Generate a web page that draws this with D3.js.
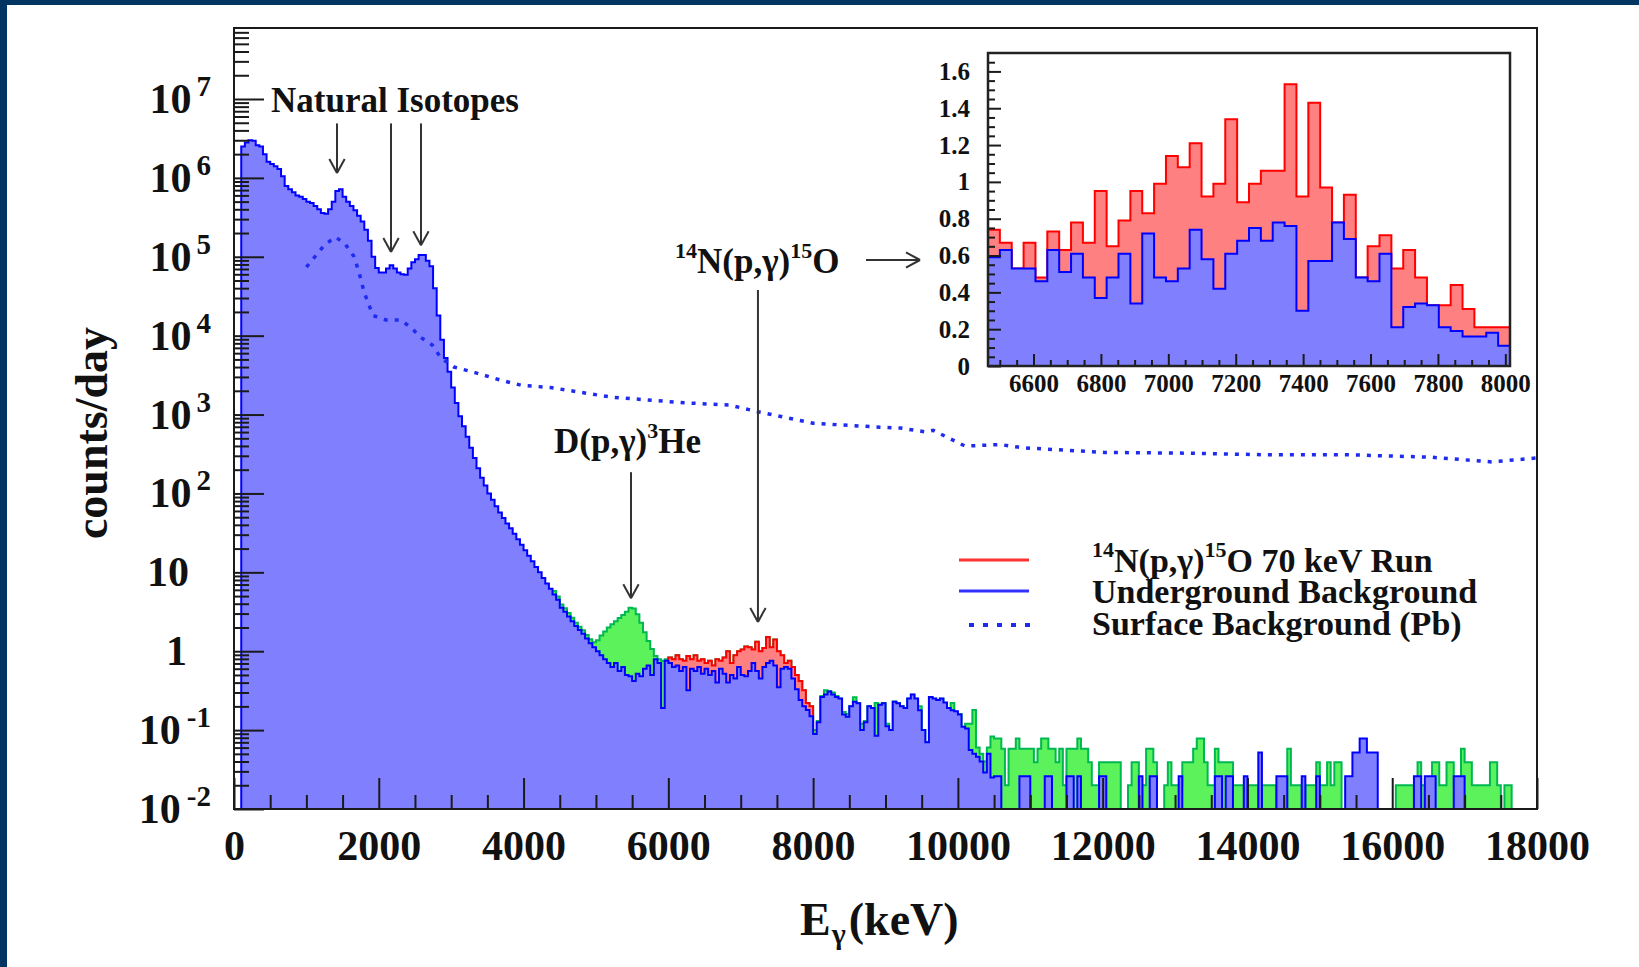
<!DOCTYPE html>
<html>
<head>
<meta charset="utf-8">
<title>Gamma spectrum</title>
<script src="https://cdnjs.cloudflare.com/ajax/libs/d3/7.8.5/d3.min.js"></script>
<style>
  html, body { margin: 0; padding: 0; background: #fff; }
  svg { display: block; }
  text { font-family: "Liberation Serif", "Times New Roman", serif; font-weight: bold; fill: #111; }
</style>
</head>
<body>
<script>
"use strict";

// main spectrum, 50 keV bins (counts/day)
const binWidth = 50;
const blueStart = 100;
const blueLow = [
	2.5e6, 2.8e6, 3.0e6, 2.95e6, 2.6e6, 2.5e6, 2.0e6, 1.6e6, 1.5e6, 1.4e6,
	1.3e6, 1.05e6, 7.9e5, 7.2e5, 6.6e5, 6.0e5, 5.75e5, 5.4e5, 5.0e5, 4.8e5,
	4.4e5, 4.0e5, 3.6e5, 3.5e5, 4.0e5, 5.0e5, 6.8e5, 7.2e5, 5.75e5, 5.0e5,
	4.4e5, 3.9e5, 3.3e5, 2.8e5, 2.2e5, 1.6e5, 1.0e5, 7.2e4, 6.3e4, 6.3e4,
	7.1e4, 7.8e4, 7.1e4, 6.3e4, 6.0e4, 5.9e4, 7.1e4, 8.5e4, 9.3e4, 1.05e5,
	1.05e5, 8.9e4, 7.6e4, 4.0e4, 1.8e4, 8.9e3, 5.2e3, 3.5e3, 2.2e3, 1.4e3,
	955, 710, 525, 380, 282, 209, 158, 126, 100, 83,
	69, 57.5, 49, 41.7, 36.3, 30.9, 26.3, 22.4, 19.1, 16.2,
	13.8, 11.7, 10, 8.5, 7.2, 6.2, 5.25, 4.5
];
const blueMid = [
	3.55, 3.16, 2.75, 2.4, 2.09, 1.86, 1.66, 1.45, 1.26, 1.12,
	1.0, 0.89, 0.79, 0.71, 0.63, 0.71, 0.56, 0.63, 0.50, 0.48,
	0.42, 0.52, 0.48, 0.60, 0.66, 0.50, 0.79, 0.71, 0.19, 0.76,
	0.71, 0.63, 0.66, 0.56, 0.63, 0.32, 0.60, 0.56, 0.63, 0.52,
	0.60, 0.50, 0.56, 0.40, 0.60, 0.52, 0.40, 0.50, 0.45, 0.63,
	0.50, 0.48, 0.56, 0.71, 0.56, 0.45, 0.63, 0.71, 0.76, 0.66,
	0.35, 0.60, 0.63, 0.60, 0.45, 0.33, 0.24, 0.20, 0.18, 0.15,
	0.089, 0.126, 0.263, 0.282, 0.309, 0.282, 0.263, 0.251, 0.158, 0.148,
	0.200, 0.229, 0.219, 0.100, 0.126, 0.200, 0.191, 0.085, 0.209, 0.219,
	0.112, 0.100, 0.229, 0.219, 0.200, 0.191, 0.251, 0.282, 0.251, 0.178,
	0.100, 0.070, 0.263, 0.251, 0.240, 0.251, 0.224, 0.191, 0.178, 0.174,
	0.158, 0.110, 0.105, 0.056, 0.050, 0.046, 0.040, 0.029, 0.050, 0.025
];
const blueHigh = [
	0.026, 0.026, 0, 0, 0, 0, 0, 0.026, 0.026, 0.026,
	0, 0, 0, 0, 0.026, 0.026, 0, 0, 0, 0,
	0.026, 0.026, 0, 0.026, 0, 0, 0, 0, 0, 0.026,
	0.026, 0, 0, 0, 0, 0, 0, 0, 0, 0,
	0.026, 0, 0, 0.026, 0.026, 0, 0, 0, 0, 0,
	0, 0.026, 0, 0, 0, 0, 0, 0, 0, 0,
	0, 0.026, 0.026, 0, 0.026, 0.026, 0, 0, 0, 0.026,
	0, 0, 0, 0.052, 0, 0, 0, 0, 0.026, 0.026,
	0.026, 0, 0, 0, 0, 0.026, 0, 0, 0, 0.026,
	0, 0, 0, 0, 0, 0, 0, 0.026, 0.026, 0.052,
	0.052, 0.078, 0.078, 0.052, 0.052, 0.052, 0, 0, 0, 0,
	0, 0, 0, 0, 0, 0, 0.026, 0.026, 0, 0.026,
	0.026, 0.026, 0, 0, 0, 0, 0, 0.026, 0.026, 0.026,
	0, 0, 0, 0, 0, 0, 0, 0, 0, 0,
	0, 0, 0, 0
];

// 70 keV run, same binning
const runStart = 4400;
const runLow = [
	5.8, 4.95, 3.9, 3.5, 3.05, 2.65, 2.3, 2.05, 1.85, 1.6,
	1.42, 1.3, 1.38, 1.58, 1.78, 2.0, 2.19, 2.4, 2.63, 2.88,
	3.16, 3.55, 3.47, 2.95, 2.29, 1.74, 1.35, 1.07, 0.87, 0.79,
	0.76, 0.79
];
const redStart = 6000;
const runRed = [
	0.83, 0.79, 0.89, 0.79, 0.76, 0.87, 0.79, 0.89, 0.76, 0.79,
	0.71, 0.76, 0.66, 0.79, 0.76, 0.83, 1.0, 0.71, 0.89, 1.0,
	1.05, 1.15, 1.12, 1.05, 1.32, 1.0, 1.10, 1.51, 1.12, 1.41,
	1.0, 0.89, 0.71, 0.76, 0.63, 0.50, 0.42, 0.32, 0.22, 0.20
];
const runMid = [
	0.10, 0.13, 0.27, 0.32, 0.31, 0.30, 0.27, 0.25, 0.17, 0.16,
	0.20, 0.26, 0.22, 0.12, 0.13, 0.20, 0.19, 0.22, 0.21, 0.22,
	0.12, 0.10, 0.23, 0.22, 0.20, 0.19, 0.25, 0.28, 0.25, 0.20,
	0.10, 0.07, 0.26, 0.25, 0.24, 0.25, 0.22, 0.19, 0.22, 0.17,
	0.16, 0.11, 0.12, 0.12, 0.18, 0.06, 0.05, 0.04, 0.06, 0.083
];
const runHigh = [
	0.078, 0.078, 0.058, 0.02, 0.058, 0.058, 0.078, 0.058, 0.058, 0.058,
	0.058, 0.039, 0.058, 0.078, 0.078, 0.058, 0.058, 0.039, 0.058, 0.02,
	0.058, 0.058, 0.058, 0.078, 0.058, 0.058, 0.039, 0.02, 0.02, 0.039,
	0.039, 0.039, 0.039, 0.039, 0.039, 0, 0, 0.02, 0.039, 0.039,
	0.02, 0.02, 0.058, 0.058, 0.039, 0, 0, 0.02, 0.039, 0.02,
	0.02, 0.02, 0.039, 0.039, 0.039, 0.058, 0.078, 0.078, 0.039, 0.02,
	0.02, 0.058, 0.039, 0.039, 0.039, 0.039, 0.02, 0.02, 0.02, 0,
	0.02, 0.02, 0.02, 0, 0.02, 0.02, 0.02, 0.02, 0, 0,
	0, 0.058, 0.02, 0.02, 0.02, 0, 0.02, 0.02, 0.02, 0.039,
	0.02, 0.02, 0.039, 0.02, 0.039, 0.039, 0, 0, 0, 0,
	0, 0, 0, 0, 0, 0, 0, 0, 0, 0,
	0, 0.02, 0.02, 0.02, 0.02, 0.02, 0, 0.039, 0.02, 0,
	0, 0.039, 0.039, 0.02, 0.02, 0.039, 0.039, 0.02, 0.02, 0.058,
	0.039, 0.039, 0.02, 0.02, 0.02, 0.02, 0.02, 0.039, 0.039, 0.02,
	0, 0.02, 0.02, 0
];

// surface background (Pb), dotted
const surfaceE = [1000, 1250, 1400, 1530, 1660, 1730, 1800, 1920, 2100, 2300,
	2450, 2580, 2740, 2860, 3040, 3330, 3670, 3970, 4370, 5220,
	6220, 6840, 7270, 8000, 8920, 9200, 9550, 9660, 10100, 10580,
	10890, 12020, 13150, 14270, 15400, 16540, 17380, 18000];
const surfaceV = [7.4e4, 1.41e5, 1.78e5, 1.48e5, 1.0e5, 6.2e4, 3.5e4, 1.8e4, 1.58e4, 1.58e4,
	1.26e4, 9.5e3, 7.6e3, 5.2e3, 4.0e3, 3.4e3, 2.75e3, 2.35e3, 2.2e3, 1.66e3,
	1.41e3, 1.32e3, 1.07e3, 776, 692, 676, 603, 631, 398, 417,
	380, 331, 324, 309, 309, 288, 251, 282];

// inset, linear scale
const insetStart = 6465;
const insetBinWidth = 35.2;
const insetRun = [
	0.74, 0.67, 0.53, 0.67, 0.48, 0.73, 0.63, 0.78, 0.67, 0.95,
	0.65, 0.79, 0.95, 0.83, 0.99, 1.14, 1.08, 1.21, 0.92, 0.99,
	1.34, 0.89, 0.99, 1.06, 1.06, 1.53, 0.92, 1.43, 0.97, 0.78,
	0.93, 0.48, 0.65, 0.71, 0.53, 0.63, 0.48, 0.33, 0.33, 0.44,
	0.31, 0.21, 0.21, 0.21
];
const insetBlue = [
	0.59, 0.63, 0.53, 0.53, 0.46, 0.63, 0.51, 0.61, 0.48, 0.37,
	0.48, 0.61, 0.34, 0.72, 0.48, 0.46, 0.53, 0.74, 0.58, 0.42,
	0.61, 0.68, 0.75, 0.68, 0.78, 0.76, 0.30, 0.57, 0.57, 0.78,
	0.69, 0.48, 0.46, 0.61, 0.21, 0.32, 0.34, 0.33, 0.21, 0.19,
	0.16, 0.16, 0.18, 0.11
];

const xTickValues = [0, 2000, 4000, 6000, 8000, 10000, 12000, 14000, 16000, 18000];
const yDecades = [-2, -1, 0, 1, 2, 3, 4, 5, 6, 7];
const insetXTicks = [6600, 6800, 7000, 7200, 7400, 7600, 7800, 8000];
const insetYTicks = [0, 0.2, 0.4, 0.6, 0.8, 1, 1.2, 1.4, 1.6];

const isotopeArrows = [
	{e: 1423, top: 4.9e6, tip: 1.15e6},
	{e: 2169, top: 4.9e6, tip: 1.15e5},
	{e: 2583, top: 4.9e6, tip: 1.4e5}
];
const peakArrows = [
	{e: 5484, top: 186, tip: 4.7},
	{e: 7238, top: 3.8e4, tip: 2.35}
];

const W = 1639, H = 967;
const plot = {left: 234, right: 1537, top: 28, bottom: 809};
const box = {left: 988, right: 1510, top: 53, bottom: 366};
const serif = '"Liberation Serif", "Times New Roman", serif';

const colors = {
	blueLine: "#0000ff", blueFill: "#8080ff",
	greenLine: "#00b850", greenFill: "#5cf25c",
	redLine: "#ff0000", redFill: "#ff8080",
	axis: "#1a1a1a", navy: "#033563"
};

const svg = d3.select("body").append("svg").attr("width", W).attr("height", H);
svg.append("rect").attr("width", W).attr("height", H).attr("fill", "#fff");

const x = d3.scaleLinear().domain([0, 18000]).range([plot.left, plot.right]);
const y = d3.scaleLog().domain([0.01, Math.pow(10, 7.9)]).range([plot.bottom, plot.top]);

function stepPoints(start, width, values) {
	const pts = [[start, 0]];
	values.forEach((v, i) => pts.push([start + i * width, v]));
	const end = start + values.length * width;
	pts.push([end, values[values.length - 1]]);
	pts.push([end, 0]);
	return pts;
}

function drawHist(g, pts, xs, ys, floor, fill, stroke) {
	const yy = v => v > 0 ? Math.min(ys(v), floor) : floor;
	g.append("path").datum(pts)
		.attr("d", d3.area().curve(d3.curveStepAfter).x(d => xs(d[0])).y0(floor).y1(d => yy(d[1])))
		.attr("fill", fill);
	g.append("path").datum(pts)
		.attr("d", d3.line().curve(d3.curveStepAfter).x(d => xs(d[0])).y(d => yy(d[1])))
		.attr("fill", "none").attr("stroke", stroke).attr("stroke-width", 2)
		.attr("stroke-linejoin", "miter");
}

function styleAxis(g, fontSize) {
	g.attr("font-family", serif).attr("font-size", fontSize);
	g.select(".domain").remove();
	g.selectAll(".tick line").attr("stroke", colors.axis).attr("stroke-width", 2);
	g.selectAll(".tick text").attr("fill", "#111").attr("font-weight", "bold");
}

function arrow(g, x1, y1, x2, y2) {
	const ang = Math.atan2(y2 - y1, x2 - x1);
	const len = 16, spread = 0.5;
	g.append("line").attr("x1", x1).attr("y1", y1).attr("x2", x2).attr("y2", y2);
	[-spread, spread].forEach(s => {
		g.append("line").attr("x1", x2).attr("y1", y2)
			.attr("x2", x2 - len * Math.cos(ang + s))
			.attr("y2", y2 - len * Math.sin(ang + s));
	});
}

// main plot
svg.append("clipPath").attr("id", "mainClip").append("rect")
	.attr("x", plot.left).attr("y", plot.top)
	.attr("width", plot.right - plot.left).attr("height", plot.bottom - plot.top);
const main = svg.append("g").attr("clip-path", "url(#mainClip)");

const runAll = runLow.concat(runRed, runMid, runHigh);
const blueAll = blueLow.concat(blueMid, blueHigh);

drawHist(main, stepPoints(runStart, binWidth, runAll), x, y, plot.bottom, colors.greenFill, colors.greenLine);
drawHist(main, stepPoints(redStart, binWidth, runRed), x, y, plot.bottom, colors.redFill, colors.redLine);
drawHist(main, stepPoints(blueStart, binWidth, blueAll), x, y, plot.bottom, colors.blueFill, colors.blueLine);

main.append("path")
	.datum(surfaceE.map((e, i) => [e, surfaceV[i]]))
	.attr("d", d3.line().x(d => x(d[0])).y(d => y(d[1])))
	.attr("fill", "none").attr("stroke", "#1f2cf0").attr("stroke-width", 3.5)
	.attr("stroke-dasharray", "4 7");

// axes
const minorX = d3.range(0, 18001, 500).filter(v => v % 2000 !== 0);
svg.append("g").attr("transform", `translate(0,${plot.bottom})`)
	.call(d3.axisBottom(x).tickValues(minorX).tickSize(-14).tickFormat(""))
	.call(g => styleAxis(g, 42));
svg.append("g").attr("transform", `translate(0,${plot.bottom})`)
	.call(d3.axisBottom(x).tickValues(xTickValues).tickSize(-31).tickPadding(21).tickFormat(d3.format("d")))
	.call(g => styleAxis(g, 42));

const yMax = Math.pow(10, 7.9);
const minorY = [];
yDecades.forEach(k => {
	for (let m = 2; m <= 9; m++) {
		const v = m * Math.pow(10, k);
		if (v < yMax) minorY.push(v);
	}
});
svg.append("g").attr("transform", `translate(${plot.left},0)`)
	.call(d3.axisLeft(y).tickValues(minorY).tickSize(-15).tickFormat(""))
	.call(g => styleAxis(g, 42));
svg.append("g").attr("transform", `translate(${plot.left},0)`)
	.call(d3.axisLeft(y).tickValues(yDecades.map(k => Math.pow(10, k))).tickSize(-30).tickFormat(""))
	.call(g => styleAxis(g, 42));

yDecades.forEach(k => {
	const yy = y(Math.pow(10, k));
	if (k === 0 || k === 1) {
		svg.append("text").attr("x", k === 0 ? 187 : 189).attr("y", yy + 14)
			.attr("text-anchor", "end").attr("font-size", 42).text(k === 0 ? "1" : "10");
	} else {
		const t = svg.append("text").attr("x", 211).attr("y", yy + 14)
			.attr("text-anchor", "end").attr("font-size", 42);
		t.append("tspan").text("10");
		t.append("tspan").attr("font-size", 29).attr("dx", k < 0 ? 6 : 5).attr("dy", -17)
			.text(k < 0 ? "-" + (-k) : String(k));
	}
});

svg.append("rect")
	.attr("x", plot.left).attr("y", plot.top)
	.attr("width", plot.right - plot.left).attr("height", plot.bottom - plot.top)
	.attr("fill", "none").attr("stroke", colors.axis).attr("stroke-width", 2);

// titles
const xt = svg.append("text").attr("x", 800).attr("y", 935).attr("font-size", 46);
xt.append("tspan").text("E");
xt.append("tspan").attr("font-size", 30).attr("dx", 1).attr("dy", 9).text("\u03b3");
xt.append("tspan").attr("dx", 3).attr("dy", -9).text("(keV)");

svg.append("text").attr("transform", "translate(107,433) rotate(-90)")
	.attr("text-anchor", "middle").attr("font-size", 46).text("counts/day");

// annotations
const ann = svg.append("g").attr("stroke", "#333").attr("stroke-width", 2).attr("fill", "none");
isotopeArrows.concat(peakArrows).forEach(a => arrow(ann, x(a.e), y(a.top), x(a.e), y(a.tip)));
arrow(ann, 866, 260, 920, 260);

svg.append("text").attr("x", 271).attr("y", 112).attr("font-size", 35).text("Natural Isotopes");

const dl = svg.append("text").attr("x", 554).attr("y", 453).attr("font-size", 35);
dl.append("tspan").text("D(p,\u03b3)");
dl.append("tspan").attr("font-size", 22).attr("dy", -15).text("3");
dl.append("tspan").attr("dy", 15).text("He");

function nLabel(t, tail) {
	t.append("tspan").attr("font-size", 22).attr("dy", -15).text("14");
	t.append("tspan").attr("dy", 15).text("N(p,\u03b3)");
	t.append("tspan").attr("font-size", 22).attr("dy", -15).text("15");
	t.append("tspan").attr("dy", 15).text("O" + tail);
}
nLabel(svg.append("text").attr("x", 675).attr("y", 273).attr("font-size", 35), "");

// legend, rows packed as tightly as in the original
const lg = svg.append("g");
lg.append("line").attr("x1", 959).attr("x2", 1029).attr("y1", 560).attr("y2", 560)
	.attr("stroke", colors.redLine).attr("stroke-width", 3).attr("opacity", 0.8);
lg.append("line").attr("x1", 959).attr("x2", 1029).attr("y1", 591).attr("y2", 591)
	.attr("stroke", colors.blueLine).attr("stroke-width", 3).attr("opacity", 0.8);
lg.append("line").attr("x1", 969).attr("x2", 1030).attr("y1", 625).attr("y2", 625)
	.attr("stroke", "#1f2cf0").attr("stroke-width", 4).attr("stroke-dasharray", "5 9");
nLabel(lg.append("text").attr("x", 1092).attr("y", 572).attr("font-size", 34), " 70 keV Run");
lg.append("text").attr("x", 1092).attr("y", 603).attr("font-size", 34).text("Underground Background");
lg.append("text").attr("x", 1092).attr("y", 635).attr("font-size", 34).text("Surface Background (Pb)");

// inset
const ix = d3.scaleLinear().domain([insetStart, insetStart + insetRun.length * insetBinWidth]).range([box.left, box.right]);
const iy = d3.scaleLinear().domain([0, 1.7]).range([box.bottom, box.top]);
svg.append("rect").attr("x", box.left).attr("y", box.top)
	.attr("width", box.right - box.left).attr("height", box.bottom - box.top).attr("fill", "#fff");
svg.append("clipPath").attr("id", "insetClip").append("rect")
	.attr("x", box.left).attr("y", box.top)
	.attr("width", box.right - box.left).attr("height", box.bottom - box.top);
const inset = svg.append("g").attr("clip-path", "url(#insetClip)");
drawHist(inset, stepPoints(insetStart, insetBinWidth, insetRun), ix, iy, box.bottom, colors.redFill, colors.redLine);
drawHist(inset, stepPoints(insetStart, insetBinWidth, insetBlue), ix, iy, box.bottom, colors.blueFill, colors.blueLine);

const insetMinorX = d3.range(6500, 8001, 50).filter(v => v % 200 !== 0);
svg.append("g").attr("transform", `translate(0,${box.bottom})`)
	.call(d3.axisBottom(ix).tickValues(insetMinorX).tickSize(-6).tickFormat(""))
	.call(g => styleAxis(g, 25));
svg.append("g").attr("transform", `translate(0,${box.bottom})`)
	.call(d3.axisBottom(ix).tickValues(insetXTicks).tickSize(-12).tickPadding(8).tickFormat(d3.format("d")))
	.call(g => styleAxis(g, 25));
const insetMinorY = d3.range(0, 35).map(i => i * 0.05).filter(v => v <= 1.7 && Math.abs(v * 5 - Math.round(v * 5)) > 0.01);
svg.append("g").attr("transform", `translate(${box.left},0)`)
	.call(d3.axisLeft(iy).tickValues(insetMinorY).tickSize(-7).tickFormat(""))
	.call(g => styleAxis(g, 25));
svg.append("g").attr("transform", `translate(${box.left},0)`)
	.call(d3.axisLeft(iy).tickValues(insetYTicks).tickSize(-13).tickPadding(18).tickFormat(d => String(+d.toFixed(1))))
	.call(g => styleAxis(g, 25));
svg.append("rect").attr("x", box.left).attr("y", box.top)
	.attr("width", box.right - box.left).attr("height", box.bottom - box.top)
	.attr("fill", "none").attr("stroke", "#222").attr("stroke-width", 2.5);

// page border
svg.append("rect").attr("x", 0).attr("y", 0).attr("width", W).attr("height", 5).attr("fill", colors.navy);
svg.append("rect").attr("x", 0).attr("y", 0).attr("width", 7).attr("height", H).attr("fill", colors.navy);
</script>
</body>
</html>
